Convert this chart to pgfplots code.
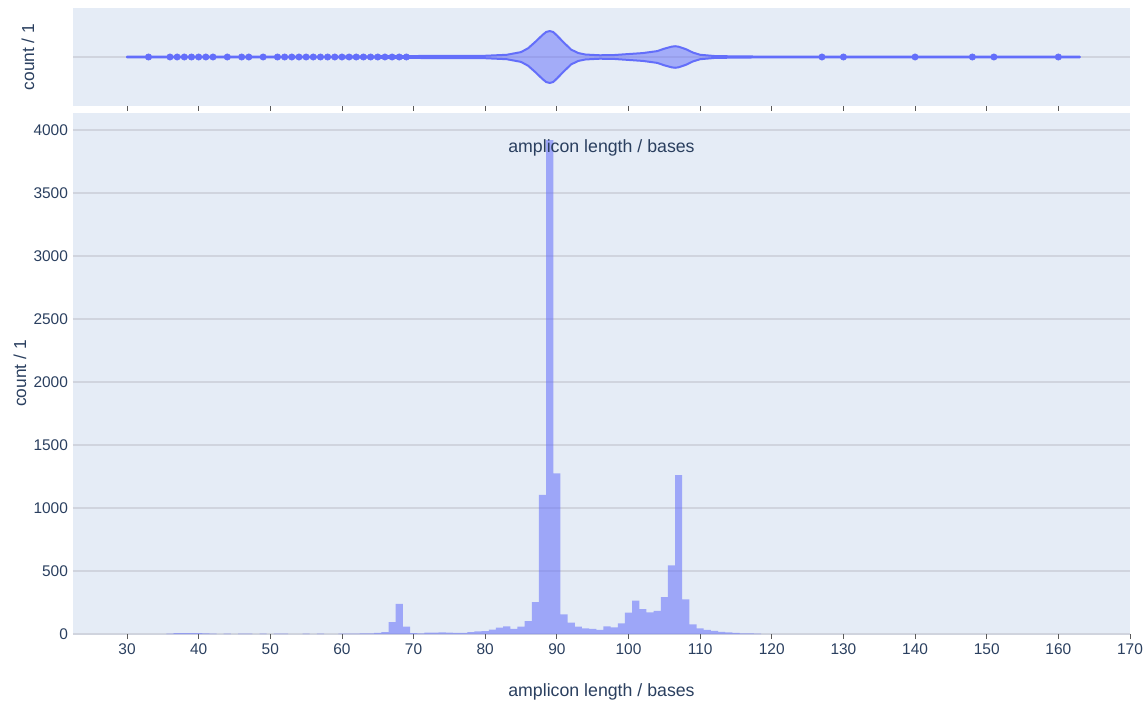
\documentclass[border=0pt]{standalone}
\usepackage{pgfplots}
\pgfplotsset{compat=1.18}
\usepackage{fontspec}
\setmainfont{Liberation Sans}
\definecolor{bg}{HTML}{E5ECF6}
\definecolor{txt}{HTML}{2A3F5F}
\definecolor{pc}{HTML}{636EFA}
\definecolor{gridc}{RGB}{208,212,222}
\definecolor{tickc}{RGB}{90,90,90}

\pgfplotstableread{
x y
36 3
37 6
38 6
39 6
40 6
41 5
42 3
44 2
46 2
47 2
49 3
51 2
52 3
55 2
57 3
60 3
61 3
62 3
63 4
64 5
65 8
66 14
67 95
68 240
69 58
70 6
71 5
72 10
73 10
74 12
75 10
76 8
77 9
78 15
79 20
80 22
81 34
82 50
83 61
84 40
85 58
86 103
87 252
88 1105
89 3920
90 1275
91 155
92 90
93 58
94 45
95 40
96 32
97 61
98 53
99 85
100 169
101 264
102 198
103 172
104 183
105 293
106 545
107 1260
108 275
109 77
110 45
111 32
112 24
113 16
114 12
115 8
116 5
117 4
118 2
}\histdata

\begin{document}
\begin{tikzpicture}[x=1pt,y=1pt]
\useasboundingbox (0,0) rectangle (860.25,528);
% ---------------- bottom: histogram ----------------
\begin{axis}[
  at={(54.75pt,52.5pt)}, anchor=south west,
  width=792.75pt, height=390.75pt, scale only axis,
  xmin=22.46, xmax=170, ymin=0, ymax=4135,
  axis background/.style={fill=bg},
  axis line style={draw=none},
  xtick={30,40,...,170},
  ytick={0,500,...,4000},
  xtick pos=lower,
  ymajorgrids, grid style={gridc, line width=0.8pt},
  tick align=outside,
  major tick length=3.75pt,
  xtick style={draw=tickc, line width=0.6pt},
  ytick style={draw=none},
  ticklabel style={font=\fontsize{11.6}{12}\selectfont, text=txt},
  /pgf/number format/assume math mode=true,
  /pgf/number format/1000 sep={},
  scaled y ticks=false,
  yticklabel style={xshift=3.5pt},
  clip=false,
]
\addplot[ybar, bar width=1, bar shift=0, draw=none, fill=pc, fill opacity=0.55] table[x=x,y=y] {\histdata};
\node[font=\fontsize{13.3}{14}\selectfont, text=txt] at (rel axis cs:0.5,0.933) {amplicon length / bases};
\node[font=\fontsize{13.3}{14}\selectfont, text=txt] at (rel axis cs:0.5,-0.111) {amplicon length / bases};
\node[font=\fontsize{13}{14}\selectfont, text=txt, rotate=90] at (rel axis cs:-0.0501,0.5) {count / 1};
\end{axis}
% ---------------- top: violin ----------------
\begin{axis}[
  at={(54.75pt,448.5pt)}, anchor=south west,
  width=792.75pt, height=73.5pt, scale only axis,
  xmin=22.46, xmax=170, ymin=-1, ymax=1,
  axis background/.style={fill=bg},
  axis line style={draw=none},
  xtick={30,40,...,160}, xticklabels={},
  xtick pos=lower,
  ytick={0}, yticklabels={},
  ymajorgrids, grid style={gridc, line width=0.9pt},
  tick align=outside,
  major tick length=3.75pt,
  xtick style={draw=tickc, line width=0.6pt},
  ytick style={draw=none},
  clip=false,
]
\addplot[draw=pc, line width=1.5pt, fill=pc, fill opacity=0.5, line join=round] coordinates {
(30,0.006) (60,0.01) (70,0.02) (80,0.025) (83,0.045) (85,0.1) (86,0.18) (87,0.31)
(88,0.45) (88.5,0.51) (89,0.53) (89.5,0.51) (90,0.44) (91,0.29) (92,0.15) (93,0.08)
(94,0.05) (96,0.035) (98,0.04) (100,0.06) (102,0.08) (104,0.12) (105,0.17) (106,0.21)
(106.5,0.22) (107,0.21) (108,0.16) (109,0.09) (110,0.045) (112,0.02) (115,0.012)
(120,0.008) (163,0.006)
(163,-0.006) (120,-0.008) (115,-0.012) (112,-0.02) (110,-0.045) (109,-0.09) (108,-0.16)
(107,-0.21) (106.5,-0.22) (106,-0.21) (105,-0.17) (104,-0.12) (102,-0.08) (100,-0.06)
(98,-0.04) (96,-0.035) (94,-0.05) (93,-0.08) (92,-0.15) (91,-0.29) (90,-0.44)
(89.5,-0.51) (89,-0.53) (88.5,-0.51) (88,-0.45) (87,-0.31) (86,-0.18) (85,-0.1)
(83,-0.045) (80,-0.025) (70,-0.02) (60,-0.01) (30,-0.006)
} -- cycle;
\addplot[only marks, mark=*, mark size=2.4pt, color=pc] coordinates {
(33,0) (36,0) (37,0) (38,0) (39,0) (40,0) (41,0) (42,0) (44,0) (46,0) (47,0) (49,0)
(51,0) (52,0) (53,0) (54,0) (55,0) (56,0) (57,0) (58,0) (59,0) (60,0) (61,0) (62,0)
(63,0) (64,0) (65,0) (66,0) (67,0) (68,0) (69,0)
(127,0) (130,0) (140,0) (148,0) (151,0) (160,0)
};
\node[font=\fontsize{13}{14}\selectfont, text=txt, rotate=90] at (rel axis cs:-0.0426,0.5) {count / 1};
\end{axis}
\end{tikzpicture}
\end{document}
